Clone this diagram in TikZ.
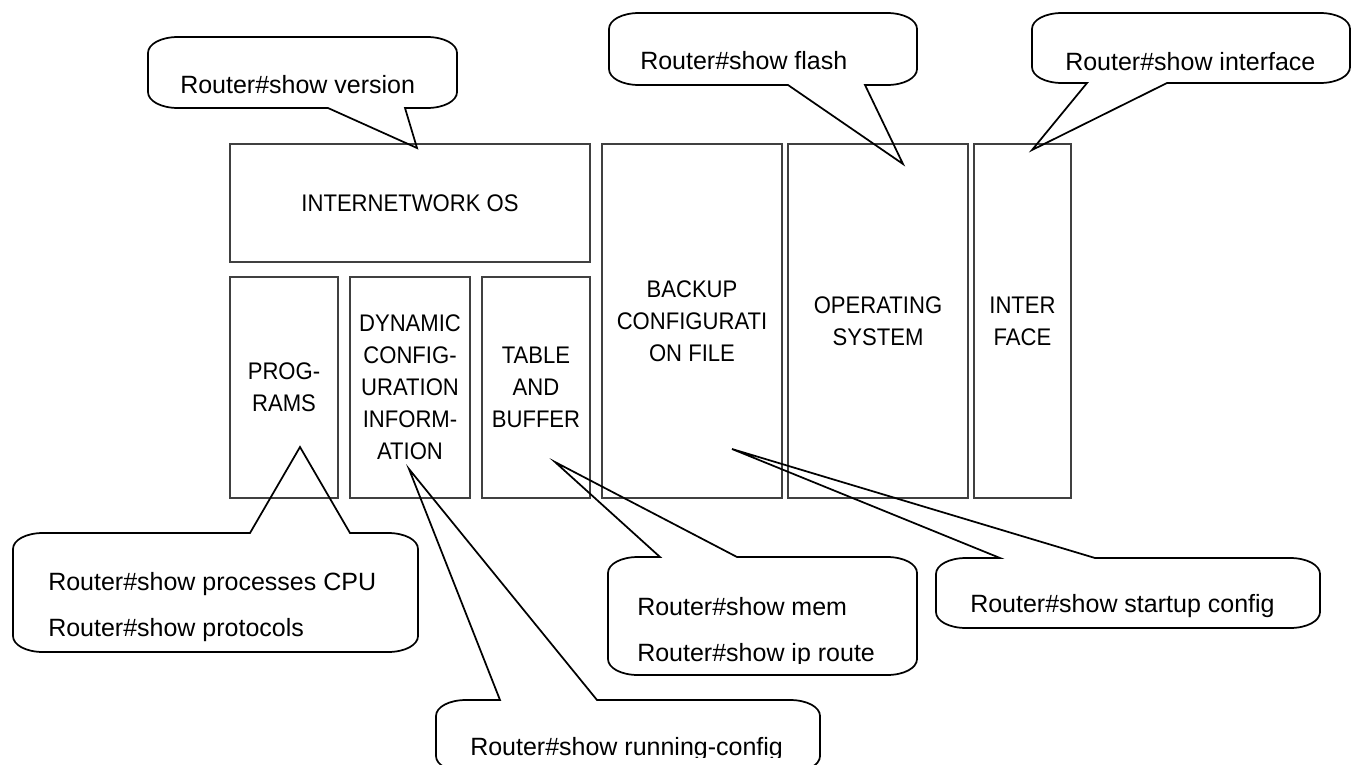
\documentclass[tikz,border=0pt]{standalone}
\usepackage{fontspec}
\setmainfont{Liberation Sans}
\newfontfamily\blockfont[FakeStretch=0.92]{Liberation Sans}

% Speech bubble with its pointer on the bottom edge:
% #1 left, #2 top, #3 right, #4 bottom, #5/#6 pointer base, #7 tip coordinate
\newcommand{\bubbledown}[7]{%
  \draw[bubble] (#5,#4) -- (#7) -- (#6,#4) -- ({#3-30},#4)
    .. controls +(17,0) and +(0,9) .. (#3,{#4-16}) -- (#3,{#2+16})
    .. controls +(0,-9) and +(17,0) .. ({#3-30},#2) -- ({#1+30},#2)
    .. controls +(-17,0) and +(0,-9) .. (#1,{#2+16}) -- (#1,{#4-16})
    .. controls +(0,9) and +(-17,0) .. ({#1+30},#4) -- cycle;}
% Speech bubble with its pointer on the top edge
\newcommand{\bubbleup}[7]{%
  \draw[bubble] ({#1+30},#2) -- (#5,#2) -- (#7) -- (#6,#2) -- ({#3-30},#2)
    .. controls +(17,0) and +(0,-9) .. (#3,{#2+16}) -- (#3,{#4-16})
    .. controls +(0,9) and +(17,0) .. ({#3-30},#4) -- ({#1+30},#4)
    .. controls +(-17,0) and +(0,9) .. (#1,{#4-16}) -- (#1,{#2+16})
    .. controls +(0,-9) and +(-17,0) .. ({#1+30},#2) -- cycle;}

\begin{document}
\begin{tikzpicture}[x=0.75pt,y=-0.75pt,
  block/.style={draw=black!75,line width=0.8pt,inner sep=0pt,align=center,
    font=\blockfont\fontsize{18}{24}\selectfont},
  bubble/.style={draw=black,line width=1.3pt,line join=miter},
  cmd/.style={inner sep=0pt,anchor=base west,font=\fontsize{18.75}{22}\selectfont}]
\clip (0,0) rectangle (1352,764);

% memory blocks of the router
\node[block,minimum width=270pt,minimum height=88.5pt] (ios) at (410,203) {INTERNETWORK OS};
\node[block,minimum width=81pt,minimum height=165.75pt] (prog) at (284,387.5) {PROG-\\RAMS};
\node[block,minimum width=90pt,minimum height=165.75pt] (dyn) at (410,387.5) {DYNAMIC\\CONFIG-\\URATION\\INFORM-\\ATION};
\node[block,minimum width=81pt,minimum height=165.75pt] (tbl) at (536,387.5) {TABLE\\AND\\BUFFER};
\node[block,minimum width=135pt,minimum height=265.5pt] (bak) at (692,321) {BACKUP\\CONFIGURATI\\ON FILE};
\node[block,minimum width=135pt,minimum height=265.5pt] (os) at (878,321) {OPERATING\\SYSTEM};
\node[block,minimum width=72.75pt,minimum height=265.5pt] (intf) at (1022.5,321) {INTER\\FACE};

% pointer tips
\coordinate (t1) at (417,148);
\coordinate (t2) at (903,164);
\coordinate (t3) at (1032,150);
\coordinate (t4) at (300,447);
\coordinate (t5) at (555,462);
\coordinate (t6) at (732,449);
\coordinate (t7) at (409,469);

% command bubbles
\bubbledown{148}{37}{457}{108}{328}{405}{t1}
\bubbledown{609}{13}{917}{85}{788}{865}{t2}
\bubbledown{1032}{13}{1350}{83}{1087}{1167}{t3}
\bubbleup{13}{533}{418}{652}{250}{350}{t4}
\bubbleup{608}{557}{917}{675}{660}{737}{t5}
\bubbleup{936}{558}{1320}{628}{1000}{1095}{t6}
\bubbleup{436}{700}{820}{772}{500}{597}{t7}

\node[cmd] (c1) at (180,93) {Router\#show version};
\node[cmd] (c2) at (640,69) {Router\#show flash};
\node[cmd] (c3) at (1065,70) {Router\#show interface};
\begin{scope}
  \clip (13,533) rectangle (418,641);
  \node[cmd] (c4a) at (48,590) {Router\#show processes CPU};
  \node[cmd] (c4b) at (48,636) {Router\#show protocols};
\end{scope}
\begin{scope}
  \clip (608,557) rectangle (917,663);
  \node[cmd] (c5a) at (637,615) {Router\#show mem};
  \node[cmd] (c5b) at (637,661) {Router\#show ip route};
\end{scope}
\node[cmd] (c6) at (970,612) {Router\#show startup config};
\begin{scope}
  \clip (436,700) rectangle (820,757);
  \node[cmd] (c7) at (470,755) {Router\#show running-config};
\end{scope}
\end{tikzpicture}
\end{document}
